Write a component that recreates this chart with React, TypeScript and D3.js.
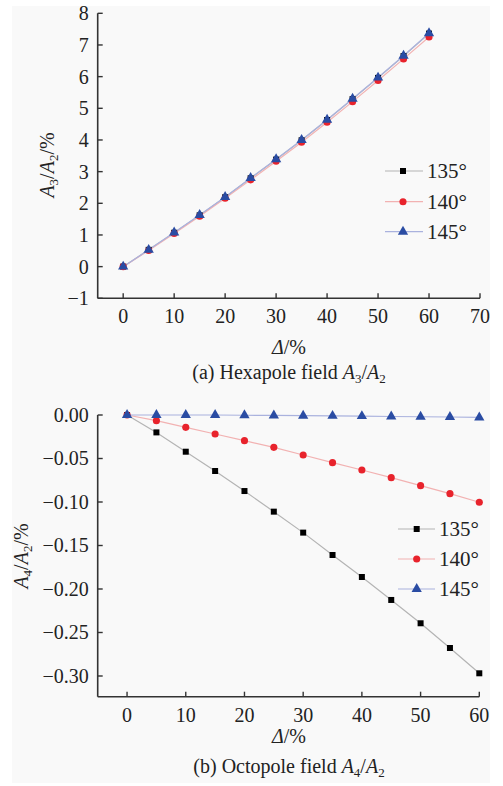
import React from 'react';
import * as d3 from 'd3';

const deltas = [0, 5, 10, 15, 20, 25, 30, 35, 40, 45, 50, 55, 60];
const seriesLabels = ['135°', '140°', '145°'];

const hexa135 = [0, 0.53, 1.07, 1.62, 2.19, 2.79, 3.38, 3.99, 4.63, 5.29, 5.96, 6.65, 7.36];
const hexa140 = [0, 0.51, 1.05, 1.59, 2.16, 2.74, 3.33, 3.93, 4.56, 5.21, 5.88, 6.56, 7.25];
const hexa145 = [0, 0.53, 1.08, 1.63, 2.2, 2.8, 3.39, 4.0, 4.64, 5.3, 5.97, 6.66, 7.37];

const octo135 = [0, -0.02, -0.0422, -0.0644, -0.0874, -0.1111, -0.1352, -0.1609, -0.1862, -0.2126, -0.2394, -0.2678, -0.2969];
const octo140 = [0, -0.0065, -0.0142, -0.0218, -0.0295, -0.0372, -0.046, -0.0548, -0.0632, -0.072, -0.0812, -0.0904, -0.1003];
const octo145 = [0, 0, 0, 0, -0.0003, -0.0005, -0.0008, -0.001, -0.0013, -0.0017, -0.002, -0.0023, -0.0028];

const hexaXTicks = [0, 10, 20, 30, 40, 50, 60, 70];
const hexaYTicks = [-1, 0, 1, 2, 3, 4, 5, 6, 7, 8];
const octoXTicks = [0, 10, 20, 30, 40, 50, 60];
const octoYTicks = [0, -0.05, -0.1, -0.15, -0.2, -0.25, -0.3];

const lineColors = ['#b4b4b4', '#f2b2b2', '#aab2de'];
const markColors = ['#000000', '#e8232c', '#2a4ca3'];
const markTypes = [d3.symbolSquare, d3.symbolCircle, d3.symbolTriangle];
const markSizes = [36, 40, 46];

const FONT = '"Liberation Serif", "Times New Roman", serif';
const AXIS = '#333333';

type ChartProps = {
  xDomain: [number, number];
  xRange: [number, number];
  yDomain: [number, number];
  yRange: [number, number];
  xTicks: number[];
  yTicks: number[];
  yFormat: (v: number) => string;
  series: number[][];
  legend: { x0: number; x1: number; mx: number; tx: number; ys: number[] };
  yLabel: { x: number; y: number; n: string };
  xLabelY: number;
  caption: { y: number; prefix: string; n: string };
};

function Marker({ i, x, y }: { i: number; x: number; y: number }) {
  const path = d3.symbol().type(markTypes[i]).size(markSizes[i])();
  return <path d={path || ''} transform={`translate(${x},${y})`} fill={markColors[i]} />;
}

function Chart(p: ChartProps) {
  const x = d3.scaleLinear().domain(p.xDomain).range(p.xRange);
  const y = d3.scaleLinear().domain(p.yDomain).range(p.yRange);
  const line = d3
    .line<number>()
    .x((_, k) => x(deltas[k]))
    .y((d) => y(d));
  const axX = p.xRange[0];
  const axY = p.yRange[0];
  const xEnd = p.xRange[1];
  const yTop = p.yRange[1];
  return (
    <g fontFamily={FONT} fill="#222">
      {p.series.map((s, i) => (
        <path key={'l' + i} d={line(s) || ''} fill="none" stroke={lineColors[i]} strokeWidth={1.2} />
      ))}
      {p.series.map((s, i) => (
        <g key={'m' + i}>
          {s.map((v, k) => (
            <Marker key={k} i={i} x={x(deltas[k])} y={y(v)} />
          ))}
        </g>
      ))}
      {/* axes */}
      <line x1={axX} x2={axX} y1={yTop} y2={axY} stroke={AXIS} strokeWidth={1.6} />
      <line x1={axX} x2={xEnd} y1={axY} y2={axY} stroke={AXIS} strokeWidth={1.6} />
      {p.yTicks.map((t) => (
        <g key={'yt' + t}>
          <line x1={axX} x2={axX + 5} y1={y(t)} y2={y(t)} stroke={AXIS} strokeWidth={1.4} />
          <text x={axX - 9} y={y(t)} dy="0.35em" textAnchor="end" fontSize={20}>
            {p.yFormat(t)}
          </text>
        </g>
      ))}
      {p.xTicks.map((t) => (
        <g key={'xt' + t}>
          <line x1={x(t)} x2={x(t)} y1={axY} y2={axY - 5} stroke={AXIS} strokeWidth={1.4} />
          <text x={x(t)} y={axY + 25} textAnchor="middle" fontSize={20}>
            {String(t)}
          </text>
        </g>
      ))}
      {/* legend */}
      {seriesLabels.map((lab, i) => (
        <g key={'lg' + i}>
          <line x1={p.legend.x0} x2={p.legend.x1} y1={p.legend.ys[i]} y2={p.legend.ys[i]} stroke={lineColors[i]} strokeWidth={1.2} />
          <Marker i={i} x={p.legend.mx} y={p.legend.ys[i]} />
          <text x={p.legend.tx} y={p.legend.ys[i]} dy="0.35em" fontSize={21}>
            {lab}
          </text>
        </g>
      ))}
      {/* y label */}
      <text transform={`translate(${p.yLabel.x},${p.yLabel.y}) rotate(-90)`} textAnchor="middle" fontSize={20}>
        <tspan fontStyle="italic">A</tspan>
        <tspan fontSize={13} dy={4}>{p.yLabel.n}</tspan>
        <tspan dy={-4}>/</tspan>
        <tspan fontStyle="italic">A</tspan>
        <tspan fontSize={13} dy={4}>2</tspan>
        <tspan dy={-4}>/%</tspan>
      </text>
      {/* x label */}
      <text x={289} y={p.xLabelY} textAnchor="middle" fontSize={20}>
        <tspan fontStyle="italic">Δ</tspan>
        <tspan>/%</tspan>
      </text>
      {/* caption */}
      <text x={289} y={p.caption.y} textAnchor="middle" fontSize={20}>
        <tspan>{p.caption.prefix}</tspan>
        <tspan fontStyle="italic">A</tspan>
        <tspan fontSize={13} dy={4}>{p.caption.n}</tspan>
        <tspan dy={-4}>/</tspan>
        <tspan fontStyle="italic">A</tspan>
        <tspan fontSize={13} dy={4}>2</tspan>
      </text>
    </g>
  );
}

export default function App() {
  const fmtInt = (v: number) => (v < 0 ? '\u2212' + Math.abs(v) : String(v));
  const fmt2 = (v: number) => (v < 0 ? '\u2212' + Math.abs(v).toFixed(2) : v.toFixed(2));
  return (
    <svg width={503} height={786} style={{ position: 'absolute', left: 0, top: 0 }}>
      <rect x={0} y={0} width={503} height={786} fill="#ffffff" />
      <rect x={12} y={6} width={478} height={777} fill="#f9f9f9" />
      <Chart
        xDomain={[-5, 70]}
        xRange={[97.7, 480]}
        yDomain={[-1, 8]}
        yRange={[298.3, 13.3]}
        xTicks={hexaXTicks}
        yTicks={hexaYTicks}
        yFormat={fmtInt}
        series={[hexa135, hexa140, hexa145]}
        legend={{ x0: 385, x1: 423, mx: 403, tx: 427, ys: [171, 201.7, 231.7] }}
        yLabel={{ x: 54, y: 165, n: '3' }}
        xLabelY={354}
        caption={{ y: 379, prefix: '(a) Hexapole field ', n: '3' }}
      />
      <Chart
        xDomain={[-5, 60]}
        xRange={[97.7, 479.3]}
        yDomain={[-0.3238, 0]}
        yRange={[696.7, 415]}
        xTicks={octoXTicks}
        yTicks={octoYTicks}
        yFormat={fmt2}
        series={[octo135, octo140, octo145]}
        legend={{ x0: 398, x1: 435, mx: 416.7, tx: 439, ys: [529, 559, 589] }}
        yLabel={{ x: 28, y: 556, n: '4' }}
        xLabelY={743}
        caption={{ y: 773, prefix: '(b) Octopole field ', n: '4' }}
      />
    </svg>
  );
}
